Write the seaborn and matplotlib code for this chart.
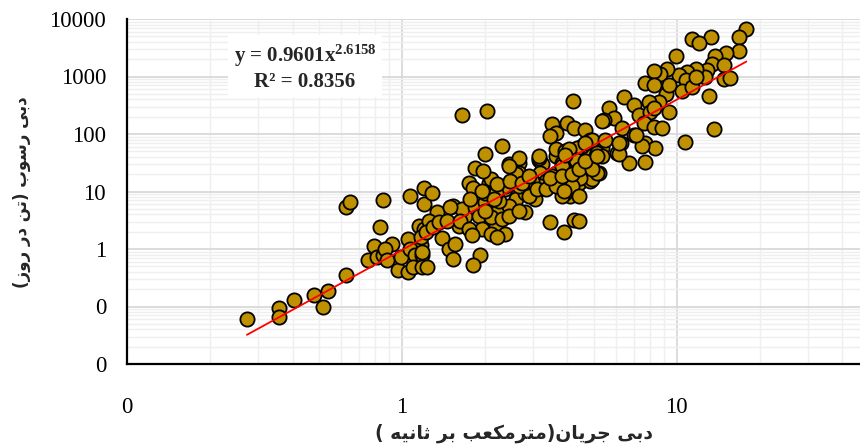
import numpy as np
import pandas as pd
import matplotlib
matplotlib.use("Agg")
import matplotlib.pyplot as plt
from matplotlib.ticker import LogLocator, FixedLocator, FuncFormatter, NullFormatter
import seaborn as sns

# ---- data: water discharge (m3/s) vs. suspended sediment discharge (t/day) ----
flow = [
    0.273, 0.358, 0.358, 0.406, 0.48, 0.538, 0.517, 0.628, 0.628, 0.65, 0.85, 0.834,
    0.789, 0.752, 0.81, 0.857, 0.92, 0.87, 0.88, 0.97, 1.05, 0.99, 1.05, 1.17, 1.07,
    1.12, 1.18, 1.10, 1.18, 1.07, 1.2, 1.2, 1.15, 1.2,
    2.0, 1.84, 1.75, 1.82, 2.07, 2.45, 2.66, 2.66, 3.15, 3.23, 3.19, 3.02, 3.23, 2.93,
    3.62, 3.82, 3.62, 3.93, 4.28, 3.72, 4.1, 3.93, 4.4, 3.47, 3.88, 4.22, 4.85, 4.85,
    1.29, 1.34, 1.25, 1.4, 1.48, 1.54, 1.56, 1.93, 1.82, 1.23, 1.18, 1.61, 1.7, 1.54,
    1.65, 1.85, 2.01, 1.9, 1.96, 2.19, 2.38, 2.25, 2.59, 2.38, 2.01, 2.1, 1.77, 2.81,
    2.59, 2.81, 3.06, 2.45, 2.25, 2.66, 3.33,
    1.65, 2.04, 4.19, 3.52, 3.62, 3.47, 3.99, 4.22, 4.65, 4.85, 4.52, 3.62, 3.93, 4.34,
    2.31, 2.66, 3.15,
    17.9, 16.9, 13.3, 11.4, 12.0, 9.9, 16.8, 15.1, 13.8, 13.4, 12.9, 12.7, 14.8, 14.8,
    15.6, 11.7, 10.9, 10.2, 10.8, 9.2, 8.72, 8.25, 7.69, 8.25, 10.45, 11.4, 13.1, 9.17,
    8.6, 7.91, 9.35, 6.45, 6.97, 7.27, 8.02, 8.25, 13.6, 10.7, 5.66, 5.9, 5.42, 6.32,
    6.97, 7.59, 8.25, 8.84, 7.69, 8.36, 7.48, 6.24, 6.06, 5.35, 4.92, 5.06, 9.35, 11.7,
    6.69, 7.63, 4.92, 5.2, 4.92, 4.46, 6.15, 4.4,
    5.35, 5.5, 6.15, 7.08, 5.13, 4.65, 4.04, 4.28, 3.82, 4.16, 3.82, 4.4, 3.15, 3.19,
    2.89, 2.59, 2.45, 2.38, 2.19, 1.98, 2.97, 3.52, 5.13, 5.35,
    1.17, 1.22, 1.30, 1.36, 1.5, 1.46, 1.63, 1.75, 1.8, 2.1, 2.22, 2.1, 2.31, 2.45,
    2.66, 2.01, 2.16, 1.96, 2.22, 2.48, 2.73, 2.89, 3.1, 3.33, 3.62, 3.88, 3.47, 3.82,
    4.16, 4.4, 4.92, 4.65, 5.13, 3.93,
]
sediment = [
    0.060, 0.093, 0.065, 0.128, 0.158, 0.189, 0.097, 0.347, 5.4, 6.6, 7.1, 2.45,
    1.15, 0.65, 0.73, 0.80, 1.23, 1.0, 0.64, 0.43, 0.40, 0.73, 1.5, 1.19, 1.0,
    0.78, 0.78, 0.49, 0.49, 8.4, 11.7, 6.0, 2.55, 2.24,
    45.7, 25.9, 14.3, 11.7, 14.3, 29.6, 31.6, 21.3, 36, 29.6, 21.3, 14.3, 11.7, 9.6,
    41, 31.6, 21.3, 22.7, 24.2, 12.5, 8.4, 9.6, 14.3, 2.92, 2.01, 3.24, 41, 15.2,
    9.6, 4.35, 3.11, 1.55, 1.0, 0.68, 1.23, 0.78, 0.52, 0.49, 0.89, 2.55, 3.8, 5.65,
    4.95, 5.3, 6.46, 3.8, 2.24, 2.55, 1.84, 4.95, 4.95, 11, 9.6, 16.3, 7.4, 4.35,
    7.4, 9.6, 7.4, 5.65, 6.9, 12.5, 15.2,
    215, 255, 375, 150, 104, 91, 158, 127, 119, 80, 61, 54, 50, 57,
    63, 38.6, 38.6,
    6720, 4950, 4950, 4520, 3800, 2240, 2730, 2550, 2240, 1675, 1285, 985, 1565, 887,
    924, 1374, 1200, 1052, 863, 1374, 1127, 1250, 757, 708, 565, 662, 457, 495,
    365, 365, 245, 434, 320, 215, 245, 281, 122, 72, 281, 189, 176, 127,
    97, 155, 135, 127, 70, 57, 61, 70, 47, 57, 80, 41, 708, 985,
    31.6, 32.4, 16.3, 21.3, 25.9, 17.4, 45.7, 3.11,
    165, 80, 70, 97, 47, 70, 54, 36, 27.6, 12.5, 8.4, 8.4, 41, 12.5,
    8.4, 19.9, 27.6, 12.5, 9.6, 22.7, 15.2, 18.6, 21.3, 41,
    1.61, 1.96, 2.4, 2.92, 5.3, 3.11, 3.11, 2.24, 1.72, 1.84, 1.61, 3.56, 3.33, 3.8,
    4.63, 4.63, 7.4, 10.2, 13.4, 15.2, 14.3, 18.6, 11, 11, 12.5, 10.2, 17.4, 18.6,
    19.9, 24.2, 24.2, 33.7, 41, 44,
]

# power-law trend line  y = a * x^b
coef_a = 0.9601
coef_b = 2.6158
r_squared = 0.8356

y_ticks = [0.01, 0.1, 1, 10, 100, 1000, 10000]
x_ticks = [0.1, 1, 10]

x_title = "دبی جریان(مترمکعب بر ثانیه )"
y_title = "دبی رسوب (تن در روز)"


# ---- minimal Persian shaping (matplotlib has no complex text layout) ----
FORMS = {  # isolated, final, initial, medial
    'ا': ('\uFE8D', '\uFE8E', None, None),
    'ب': ('\uFE8F', '\uFE90', '\uFE91', '\uFE92'),
    'ت': ('\uFE95', '\uFE96', '\uFE97', '\uFE98'),
    'ث': ('\uFE99', '\uFE9A', '\uFE9B', '\uFE9C'),
    'ج': ('\uFE9D', '\uFE9E', '\uFE9F', '\uFEA0'),
    'د': ('\uFEA9', '\uFEAA', None, None),
    'ر': ('\uFEAD', '\uFEAE', None, None),
    'ز': ('\uFEAF', '\uFEB0', None, None),
    'س': ('\uFEB1', '\uFEB2', '\uFEB3', '\uFEB4'),
    'ع': ('\uFEC9', '\uFECA', '\uFECB', '\uFECC'),
    'ک': ('\uFED9', '\uFEDA', '\uFEDB', '\uFEDC'),
    'م': ('\uFEE1', '\uFEE2', '\uFEE3', '\uFEE4'),
    'ن': ('\uFEE5', '\uFEE6', '\uFEE7', '\uFEE8'),
    'ه': ('\uFEE9', '\uFEEA', '\uFEEB', '\uFEEC'),
    'و': ('\uFEED', '\uFEEE', None, None),
    'ی': ('\uFEEF', '\uFEF0', '\uFEF3', '\uFEF4'),
}


def rtl(text):
    out = []
    n = len(text)
    for i, ch in enumerate(text):
        if ch not in FORMS:
            out.append(ch)
            continue
        prev = text[i - 1] if i > 0 else ''
        nxt = text[i + 1] if i < n - 1 else ''
        join_prev = prev in FORMS and FORMS[prev][2] is not None
        join_next = FORMS[ch][2] is not None and nxt in FORMS
        iso, fin, ini, med = FORMS[ch]
        if join_prev and join_next:
            out.append(med)
        elif join_prev:
            out.append(fin)
        elif join_next:
            out.append(ini)
        else:
            out.append(iso)
    swap = {'(': ')', ')': '('}
    return ''.join(swap.get(c, c) for c in reversed(out))


# ---- figure ----
sns.set_style("white")
plt.rcParams['font.family'] = ['Liberation Serif', 'DejaVu Sans']
plt.rcParams['mathtext.fontset'] = 'custom'
plt.rcParams['mathtext.rm'] = 'Liberation Serif:bold'
plt.rcParams['mathtext.bf'] = 'Liberation Serif:bold'
plt.rcParams['mathtext.it'] = 'Liberation Serif:bold'

fig = plt.figure(figsize=(8.6, 4.46), dpi=100)
ax = fig.add_axes([127 / 860, 82 / 446, 742 / 860, 345 / 446])

df = pd.DataFrame({"flow": flow, "sediment": sediment})

# trend line over the observed discharge range
x_fit = np.logspace(np.log10(min(flow)), np.log10(max(flow)), 200)
y_fit = coef_a * x_fit ** coef_b

sns.scatterplot(data=df, x="flow", y="sediment", ax=ax, s=105, color="#BF9000",
                edgecolor="black", linewidth=1.3, zorder=3, legend=False)
sns.lineplot(x=x_fit, y=y_fit, ax=ax, color="#FF0000", linewidth=1.3,
             estimator=None, sort=False, zorder=4)

ax.set_xscale("log")
ax.set_yscale("log")
ax.set_xlim(0.1, 50)
ax.set_ylim(0.01, 10000)

ax.xaxis.set_major_locator(FixedLocator(x_ticks))
ax.yaxis.set_major_locator(FixedLocator(y_ticks))
ax.xaxis.set_minor_locator(LogLocator(base=10, subs=np.arange(2, 10), numticks=20))
ax.yaxis.set_minor_locator(LogLocator(base=10, subs=np.arange(2, 10), numticks=20))
fmt = FuncFormatter(lambda v, p: f"{v:.0f}")
ax.xaxis.set_major_formatter(fmt)
ax.yaxis.set_major_formatter(fmt)
ax.xaxis.set_minor_formatter(NullFormatter())
ax.yaxis.set_minor_formatter(NullFormatter())

ax.grid(which="major", color="#d9d9d9", linewidth=1.3, zorder=0)
ax.grid(which="minor", color="#efefef", linewidth=1.0, zorder=0)
ax.set_axisbelow(True)

for side in ("top", "right"):
    ax.spines[side].set_visible(False)
for side in ("left", "bottom"):
    ax.spines[side].set_color("black")
    ax.spines[side].set_linewidth(1.6)

ax.tick_params(which="major", direction="inout", length=7, width=1.3,
               labelsize=16.5, colors="black")
ax.tick_params(axis="y", which="major", pad=11.5)
ax.tick_params(axis="x", which="major", pad=20)
ax.tick_params(which="minor", direction="in", length=3.5, width=1.0, colors="black")

ax.set_xlabel(rtl(x_title), fontsize=13.5, fontweight="bold",
              family=["DejaVu Sans"])
ax.xaxis.label.set_va("center")
ax.xaxis.set_label_coords((514 - 127) / 742, (364 - 433) / 345)
ax.set_ylabel(rtl(y_title), fontsize=12, fontweight="bold",
              family=["DejaVu Sans"])
ax.yaxis.label.set_va("center")
ax.yaxis.set_label_coords((22 - 127) / 742, (364 - 192) / 345)

ax.text((305 - 127) / 742, (364 - 67) / 345,
        f"y = {coef_a:.4f}x$^{{{coef_b:.4f}}}$\nR² = {r_squared:.4f}",
        transform=ax.transAxes, ha="center", va="center", fontsize=15,
        fontweight="bold", linespacing=1.2, zorder=5,
        bbox=dict(facecolor="white", edgecolor="none", pad=4))

fig.savefig("out.png", dpi=100)
